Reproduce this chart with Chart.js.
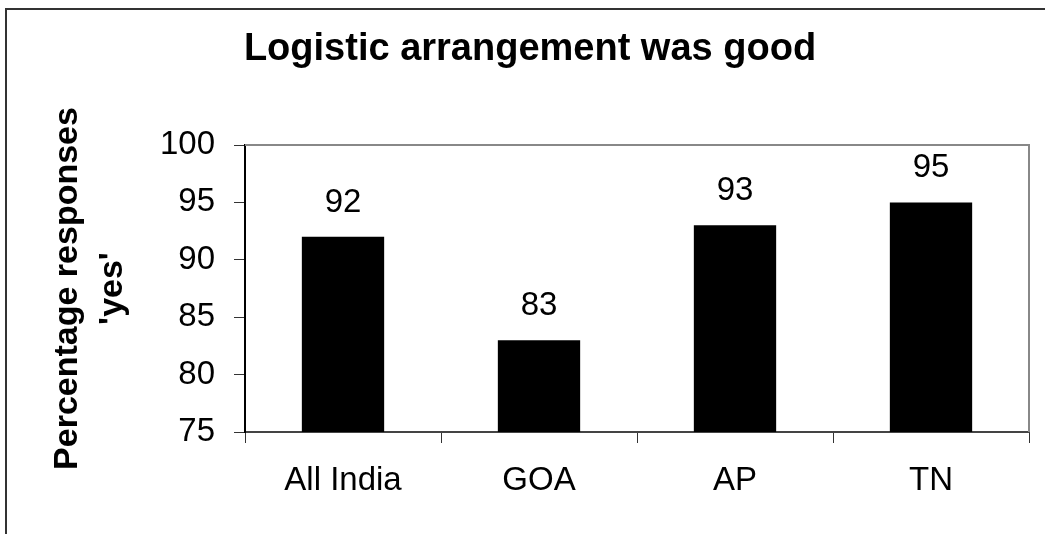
<!DOCTYPE html>
<html><head><meta charset="utf-8">
<script src="https://cdn.jsdelivr.net/npm/chart.js@4"></script>
<style>html,body{margin:0;padding:0;background:#fff;overflow:hidden}#wrap{position:relative;width:1045px;height:534px}</style>
</head><body><div id="wrap"><canvas id="c" width="1045" height="534"></canvas></div>
<script>
const chartTitle = 'Logistic arrangement was good';
const yTitle = ['Percentage responses', "'yes'"];
const categories = ['All India', 'GOA', 'AP', 'TN'];
const values = [92, 83, 93, 95];
const yTicks = [75, 80, 85, 90, 95, 100];

const FONT = '"Liberation Sans", Arial, sans-serif';

const framePlugin = {
  id: 'frame',
  beforeDraw(chart) {
    const ctx = chart.ctx;
    ctx.save();
    ctx.fillStyle = '#fff';
    ctx.fillRect(0, 0, chart.width, chart.height);
    ctx.strokeStyle = '#333';
    ctx.lineWidth = 2;
    ctx.beginPath();
    ctx.moveTo(1045, 9);
    ctx.lineTo(6, 9);
    ctx.lineTo(6, 534);
    ctx.stroke();
    ctx.restore();
  },
  beforeDatasetsDraw(chart) {
    const {ctx, chartArea: a} = chart;
    ctx.save();
    ctx.strokeStyle = '#888';
    ctx.lineWidth = 2;
    ctx.beginPath();
    ctx.moveTo(a.left, a.top);
    ctx.lineTo(a.right, a.top);
    ctx.lineTo(a.right, a.bottom);
    ctx.stroke();
    ctx.restore();
  }
};

const labelPlugin = {
  id: 'valueLabels',
  afterDatasetsDraw(chart) {
    const ctx = chart.ctx;
    const meta = chart.getDatasetMeta(0);
    ctx.save();
    ctx.font = '33px ' + FONT;
    ctx.fillStyle = '#000';
    ctx.textAlign = 'center';
    ctx.textBaseline = 'alphabetic';
    meta.data.forEach((bar, i) => {
      ctx.fillText(String(values[i]), bar.x, bar.y - 25);
    });
    ctx.restore();
  }
};

new Chart(document.getElementById('c'), {
  type: 'bar',
  data: {
    labels: categories,
    datasets: [{
      data: values,
      backgroundColor: '#000',
      borderWidth: 0,
      categoryPercentage: 1,
      barPercentage: 0.42
    }]
  },
  options: {
    responsive: false,
    animation: false,
    devicePixelRatio: 1,
    layout: {padding: {left: 31, right: 16, top: 0, bottom: 0}},
    plugins: {
      legend: {display: false},
      tooltip: {enabled: false},
      title: {
        display: true,
        text: chartTitle,
        color: '#000',
        font: {family: FONT, size: 38, weight: 'bold', lineHeight: 1.2},
        padding: {top: 27, bottom: 72.4}
      }
    },
    scales: {
      x: {
        grid: {drawOnChartArea: false, drawTicks: true, tickLength: 11, color: '#333', offset: true},
        border: {display: true, color: '#444', width: 2},
        ticks: {color: '#000', padding: 18, font: {family: FONT, size: 33}},
        afterFit(s) { s.height = 102; }
      },
      y: {
        min: 75,
        max: 100,
        afterBuildTicks(s) { s.ticks = yTicks.map(v => ({value: v})); },
        grid: {drawOnChartArea: false, drawTicks: true, tickLength: 11, color: '#333'},
        border: {display: true, color: '#000', width: 2},
        ticks: {color: '#000', padding: 19, font: {family: FONT, size: 33}},
        title: {
          display: true,
          text: yTitle,
          color: '#000',
          font: {family: FONT, size: 34, weight: 'bold', lineHeight: 1.3},
          padding: {top: 15, bottom: 0}
        },
        afterFit(s) { s.width = 214; }
      }
    }
  },
  plugins: [framePlugin, labelPlugin]
});
</script>
</body></html>
